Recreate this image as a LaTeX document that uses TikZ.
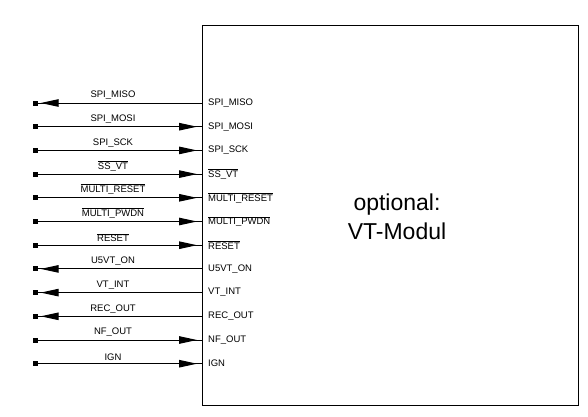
\documentclass[tikz,border=0pt]{standalone}
\usepackage{fontspec}
\setmainfont{Liberation Sans}
\usetikzlibrary{arrows.meta}
\newcommand{\ovl}[1]{\ensuremath{\overline{\mbox{#1}}}}
\tikzset{
  pinlbl/.style={font=\fontsize{9.5}{10}\selectfont, inner sep=0pt},
  sigsq/.style={fill=black, minimum size=5pt, inner sep=0pt},
  wire/.style={line width=1pt},
  arr/.style={line width=1pt, -{Triangle[length=18pt,width=7.5pt]}},
}
\begin{document}
\begin{tikzpicture}[x=1pt,y=-1pt]
\useasboundingbox (0,0) rectangle (588,416);
\node[draw, line width=1.4pt, minimum width=376pt, minimum height=380pt, inner sep=0pt, anchor=north west] (mod) at (202,25) {};
\node[font=\fontsize{23}{29}\selectfont, align=center] (title) at (397,217) {optional:\\VT-Modul};
\foreach \i/\txt/\dir in {0/SPI\_MISO/l, 1/SPI\_MOSI/r, 2/SPI\_SCK/r, 3/\ovl{SS\_VT}/r, 4/\ovl{MULTI\_RESET}/r, 5/\ovl{MULTI\_PWDN}/r, 6/\ovl{RESET}/r, 7/U5VT\_ON/l, 8/VT\_INT/l, 9/REC\_OUT/l, 10/NF\_OUT/r, 11/IGN/r} {
  \pgfmathsetmacro{\yy}{103+23.7*\i}
  \node[sigsq] (s\i) at (35,\yy) {};
  \coordinate (p\i) at (202,\yy);
  \node[pinlbl, anchor=west] (in\i) at (208,\yy) {\txt};
  \node[pinlbl, anchor=south] (ex\i) at (113,\yy-3) {\txt};
  \draw[wire] (s\i) -- (p\i);
  \if\dir r
    \draw[arr, shorten >=5pt] (s\i) -- (p\i);
  \else
    \draw[arr, shorten >=3pt] (p\i) -- (s\i);
  \fi
}
\end{tikzpicture}
\end{document}
